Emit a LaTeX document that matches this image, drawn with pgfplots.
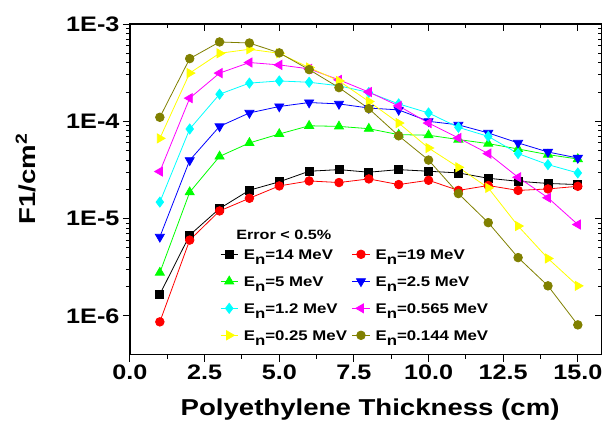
\documentclass[border=0pt]{standalone}
\usepackage{fontspec}
\setmainfont{Liberation Sans}[FakeStretch=1.2]
\usepackage{pgfplots}
\usepackage{pgfplotstable}
\pgfplotsset{compat=1.18}

\definecolor{cBlack}{RGB}{0,0,0}
\definecolor{cRed}{RGB}{255,0,0}
\definecolor{cGreen}{RGB}{0,255,0}
\definecolor{cBlue}{RGB}{0,0,255}
\definecolor{cCyan}{RGB}{0,255,255}
\definecolor{cMagenta}{RGB}{255,0,255}
\definecolor{cYellow}{RGB}{255,255,0}
\definecolor{cOlive}{RGB}{128,128,0}

% x, fluence for each neutron energy
\pgfplotstableread{
x  e14     e19     e5      e25     e12     e0565   e025    e0144
1  1.67e-6 8.7e-7  2.79e-6 6.5e-6  1.48e-5 3.05e-5 6.68e-5 1.10e-4
2  6.78e-6 6.02e-6 1.87e-5 3.98e-5 8.34e-5 1.73e-4 3.13e-4 4.41e-4
3  1.27e-5 1.20e-5 4.36e-5 8.87e-5 1.90e-4 3.13e-4 5.00e-4 6.54e-4
4  1.96e-5 1.62e-5 6.00e-5 1.22e-4 2.47e-4 4.02e-4 5.50e-4 6.38e-4
5  2.39e-5 2.17e-5 7.41e-5 1.42e-4 2.60e-4 3.80e-4 5.00e-4 5.05e-4
6  3.07e-5 2.44e-5 9.00e-5 1.56e-4 2.52e-4 3.46e-4 3.57e-4 3.40e-4
7  3.19e-5 2.35e-5 8.87e-5 1.51e-4 2.32e-4 2.67e-4 2.60e-4 2.22e-4
8  3.00e-5 2.56e-5 8.40e-5 1.37e-4 1.98e-4 2.00e-4 1.60e-4 1.35e-4
9  3.19e-5 2.24e-5 7.30e-5 1.31e-4 1.51e-4 1.44e-4 9.60e-5 7.10e-5
10 3.07e-5 2.48e-5 7.20e-5 1.00e-4 1.22e-4 9.60e-5 5.32e-5 4.00e-5
11 2.95e-5 1.95e-5 6.50e-5 9.20e-5 8.67e-5 6.74e-5 3.37e-5 1.81e-5
12 2.60e-5 2.19e-5 5.90e-5 7.60e-5 7.00e-5 4.66e-5 2.07e-5 9.10e-6
13 2.42e-5 1.95e-5 5.20e-5 6.00e-5 4.66e-5 2.66e-5 8.40e-6 3.98e-6
14 2.30e-5 2.02e-5 4.55e-5 4.84e-5 3.59e-5 1.64e-5 3.90e-6 2.04e-6
15 2.24e-5 2.15e-5 4.10e-5 4.20e-5 2.95e-5 8.70e-6 2.04e-6 8.10e-7
}\data

\newcommand{\En}[1]{E\raisebox{-5pt}{n}=#1 MeV}

\begin{document}
\begin{tikzpicture}
\useasboundingbox (-130pt,-75.3pt) rectangle (476pt,354.7pt);
% top and right ticks, pointing in
\begin{axis}[
    scale only axis,
    width=471.7pt, height=330.7pt,
    ymode=log,
    xmin=0, xmax=15.8,
    ymin=4e-7, ymax=1e-3,
    xtick={0,2.5,5,7.5,10,12.5,15},
    minor x tick num=1,
    ytick={1e-6,1e-5,1e-4,1e-3},
    major tick length=7pt,
    minor tick length=4pt,
    tick style={black,line width=1pt},
    tick align=inside,
    xtick pos=right, ytick pos=right,
    xticklabels={}, yticklabels={},
    axis line style={draw=none},
  ]
\addplot[draw=none] table[x=x,y=e14] {\data};
\end{axis}
\begin{axis}[
    scale only axis,
    width=471.7pt, height=330.7pt,
    ymode=log,
    xmin=0, xmax=15.8,
    ymin=4e-7, ymax=1e-3,
    xtick={0,2.5,5,7.5,10,12.5,15},
    minor x tick num=1,
    ytick={1e-6,1e-5,1e-4,1e-3},
    axis line style={line width=1.3pt},
    major tick length=7pt,
    minor tick length=4pt,
    tick style={black,line width=1pt},
    tick align=outside,
    xtick pos=left, ytick pos=left,
    xticklabels={0.0,2.5,5.0,7.5,10.0,12.5,15.0},
    yticklabels={1E-6,1E-5,1E-4,1E-3},
    ticklabel style={font=\fontsize{21}{21}\selectfont\bfseries},
    xlabel={Polyethylene Thickness (cm)},
    ylabel={F1/cm\textsuperscript{2}},
    xlabel style={font=\fontsize{23}{23}\selectfont\bfseries,
      at={(axis description cs:0.509,-0.1672)}, anchor=center},
    ylabel style={font=\fontsize{23}{23}\selectfont\bfseries,
      at={(axis description cs:-0.2205,0.531)}, anchor=center},
    legend columns=2,
    legend style={draw=none, fill=none, at={(0.191,0.345)}, anchor=north west,
      inner sep=0pt, font=\fontsize{14}{14}\selectfont\bfseries,
      nodes={inner sep=0pt, text height=18.5pt, text depth=8.5pt},
      /tikz/every odd column/.append style={column sep=5.7pt},
      /tikz/every even column/.append style={column sep=5pt}},
    legend cell align=left,
    every axis plot/.append style={line width=0.8pt},
  ]
\addplot[cBlack, mark=square*, mark size=4pt] table[x=x,y=e14] {\data};
\addlegendentry{\En{14}}
\addplot[cRed, mark=*, mark size=4.3pt] table[x=x,y=e19] {\data};
\addlegendentry{\En{19}}
\addplot[cGreen, mark=triangle*, mark size=5.2pt] table[x=x,y=e5] {\data};
\addlegendentry{\En{5}}
\addplot[cBlue, mark=triangle*, mark size=5.2pt, mark options={rotate=180}] table[x=x,y=e25] {\data};
\addlegendentry{\En{2.5}}
\addplot[cCyan, mark=diamond*, mark size=5pt] table[x=x,y=e12] {\data};
\addlegendentry{\En{1.2}}
\addplot[cMagenta, mark=triangle*, mark size=5.2pt, mark options={rotate=90}] table[x=x,y=e0565] {\data};
\addlegendentry{\En{0.565}}
\addplot[cYellow, mark=triangle*, mark size=5.2pt, mark options={rotate=-90}] table[x=x,y=e025] {\data};
\addlegendentry{\En{0.25}}
\addplot[cOlive, mark=*, mark size=4.3pt] table[x=x,y=e0144] {\data};
\addlegendentry{\En{0.144}}
\node[font=\fontsize{13.5}{13.5}\selectfont\bfseries] at (rel axis cs:0.326,0.362) {Error < 0.5\%};
\end{axis}
\end{tikzpicture}
\end{document}
